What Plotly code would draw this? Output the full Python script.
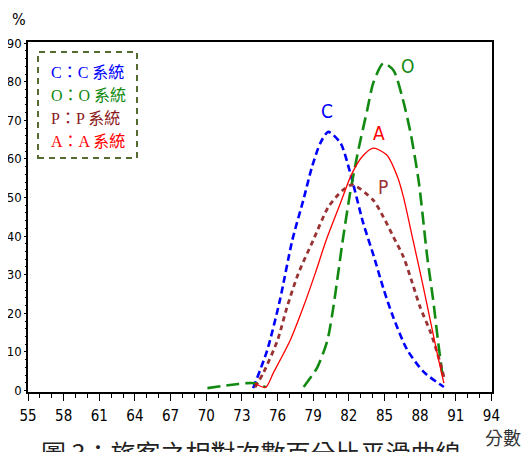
import plotly.graph_objects as go

# ---- data ----
c_x = [73.95, 75.13, 76.2, 77.24, 78.17, 78.9, 79.6, 80.27, 81.3, 82.1, 83.2, 84.1, 84.9, 85.7, 86.9, 88.3, 90.0]
c_y = [0.6, 10.4, 23.4, 38.9, 49.3, 57.9, 64.1, 67.0, 64.1, 56.6, 43.5, 34.8, 26.5, 19.3, 10.6, 4.8, 0.9]

o_x = [70.1, 72.0, 73.45, 74.3, 75.0, None, 78.2, 79.35, 80.2, 80.7, 81.1, 81.45, 82.1, 82.8, 83.55, 84.06, 84.9, 85.75, 86.5, 87.2, 87.9, 88.6, 89.1, 89.5, 89.9]
o_y = [0.6, 1.4, 1.9, 1.8, 0.8, None, 0.9, 6.0, 13.0, 21.6, 30.3, 38.1, 51.0, 62.3, 72.7, 79.7, 84.8, 83.0, 76.0, 66.7, 53.8, 34.6, 23.4, 13.0, 3.5]

p_x = [74.1, 74.8, 76.0, 76.8, 77.75, 79.0, 80.27, 81.45, 82.3, 84.06, 84.9, 85.75, 86.6, 87.35, 88.0, 88.9, 89.7, 90.0]
p_y = [0.8, 4.5, 13.0, 21.6, 30.3, 38.9, 47.5, 51.8, 53.3, 49.3, 45.0, 39.8, 34.6, 27.8, 21.6, 14.9, 7.1, 3.5]

a_x = [74.1, 75.0, 75.64, 77.07, 78.17, 79.18, 80.1, 81.3, 82.2, 83.1, 84.06, 85.2, 86.1, 86.6, 87.4, 88.2, 88.9, 89.5, 90.0]
a_y = [1.8, 0.8, 4.5, 13.0, 21.6, 30.4, 39.0, 48.6, 55.8, 60.5, 62.8, 61.0, 55.3, 50.1, 39.0, 27.8, 17.5, 8.7, 1.9]

x_ticks = list(range(55, 95, 3))
y_ticks = list(range(0, 91, 10))

legend_labels = ["C：C 系統", "O：O 系統", "P：P 系統", "A：A 系統"]

BLUE = "#0000FF"
GREEN = "#128A12"
BROWN = "#993333"
RED = "#FF0000"

fig = go.Figure()
fig.add_trace(go.Scatter(x=c_x, y=c_y, mode="lines", line=dict(color=BLUE, width=2.6, dash="7px,4px", shape="spline", smoothing=0.7), showlegend=False))
fig.add_trace(go.Scatter(x=o_x, y=o_y, mode="lines", line=dict(color=GREEN, width=2.6, dash="13px,6px", shape="spline", smoothing=0.7), connectgaps=False, showlegend=False))
fig.add_trace(go.Scatter(x=p_x, y=p_y, mode="lines", line=dict(color=BROWN, width=2.8, dash="5px,4px", shape="spline", smoothing=0.7), showlegend=False))
fig.add_trace(go.Scatter(x=a_x, y=a_y, mode="lines", line=dict(color=RED, width=1.3, shape="spline", smoothing=0.7), showlegend=False))

# page body has an 8px margin: figure is shrunk and shifted accordingly
OFF = 8
W, H = 529 - OFF, 452 - OFF
L, R, T, B = 28, 492, 42, 392  # plot area in page pixels
def px(x):
    return (x - L) / (R - L)
def py(y):
    return (B - y) / (B - T)

NARROW = "DejaVu Sans Condensed, Liberation Sans"

annotations = []
for txt, xx, yy, col in [("C", 80.2, 72.5, BLUE), ("O", 86.9, 84.0, GREEN), ("A", 84.5, 66.7, RED), ("P", 84.9, 52.7, BROWN)]:
    annotations.append(dict(x=xx, y=yy, xref="x", yref="y", text=txt, showarrow=False,
                            xanchor="center", yanchor="middle",
                            font=dict(family=NARROW, size=19, color=col)))
leg_cols = [BLUE, GREEN, "#8B1A1A", RED]
leg_y = [72, 95, 118, 141]
for txt, col, yy in zip(legend_labels, leg_cols, leg_y):
    annotations.append(dict(x=px(49), y=py(yy), xref="paper", yref="paper", xanchor="left", yanchor="middle",
                            text=txt, showarrow=False,
                            font=dict(family="Liberation Serif, Noto Sans CJK TC", size=16, color=col)))
annotations.append(dict(x=px(19), y=py(20), xref="paper", yref="paper", text="%", showarrow=False,
                        xanchor="center", yanchor="middle",
                        font=dict(family=NARROW, size=16, color="#000")))
annotations.append(dict(x=px(503), y=py(437), xref="paper", yref="paper", text="分數", showarrow=False,
                        xanchor="center", yanchor="middle",
                        font=dict(family="Noto Sans CJK TC", size=18, color="#333")))
annotations.append(dict(x=px(250), y=py(432), xref="paper", yref="paper", xanchor="center", yanchor="top",
                        text="圖 3：旅客之相對次數百分比平滑曲線", showarrow=False,
                        font=dict(family="Noto Sans CJK TC", size=25, color="#222")))

shapes = [dict(type="rect", xref="paper", yref="paper", x0=px(38), x1=px(137), y0=py(158), y1=py(52),
               line=dict(color="#556B2F", width=2, dash="6px,5px"), fillcolor="rgba(0,0,0,0)")]

xtickfont = dict(family=NARROW, size=15, color="#000")
ytickfont = dict(family=NARROW, size=13, color="#000")
fig.update_layout(
    width=W, height=H,
    margin=dict(l=L - OFF, r=529 - R, t=T - OFF, b=452 - B, autoexpand=False),
    paper_bgcolor="white", plot_bgcolor="white",
    annotations=annotations, shapes=shapes,
    xaxis=dict(range=[55, 94.05], tickvals=x_ticks, ticktext=[str(v) for v in x_ticks],
               showgrid=False, zeroline=False, showline=True, linecolor="#000", linewidth=1.5,
               mirror=True, ticks="outside", ticklen=7, tickcolor="#000", tickfont=xtickfont,
               automargin=False, ticklabelstandoff=2,
               minor=dict(dtick=1, tick0=55, ticks="outside", ticklen=4, tickcolor="#000")),
    yaxis=dict(range=[-0.4, 90.3], tickvals=y_ticks, ticktext=[str(v) for v in y_ticks],
               showgrid=False, zeroline=False, showline=True, linecolor="#000", linewidth=1.5,
               mirror=True, ticks="outside", ticklen=2, tickcolor="#000", tickfont=ytickfont,
               automargin=False, ticklabelstandoff=0,
               minor=dict(dtick=2, tick0=0, ticks="outside", ticklen=1, tickcolor="#000")),
)

fig.write_html("out.html")
